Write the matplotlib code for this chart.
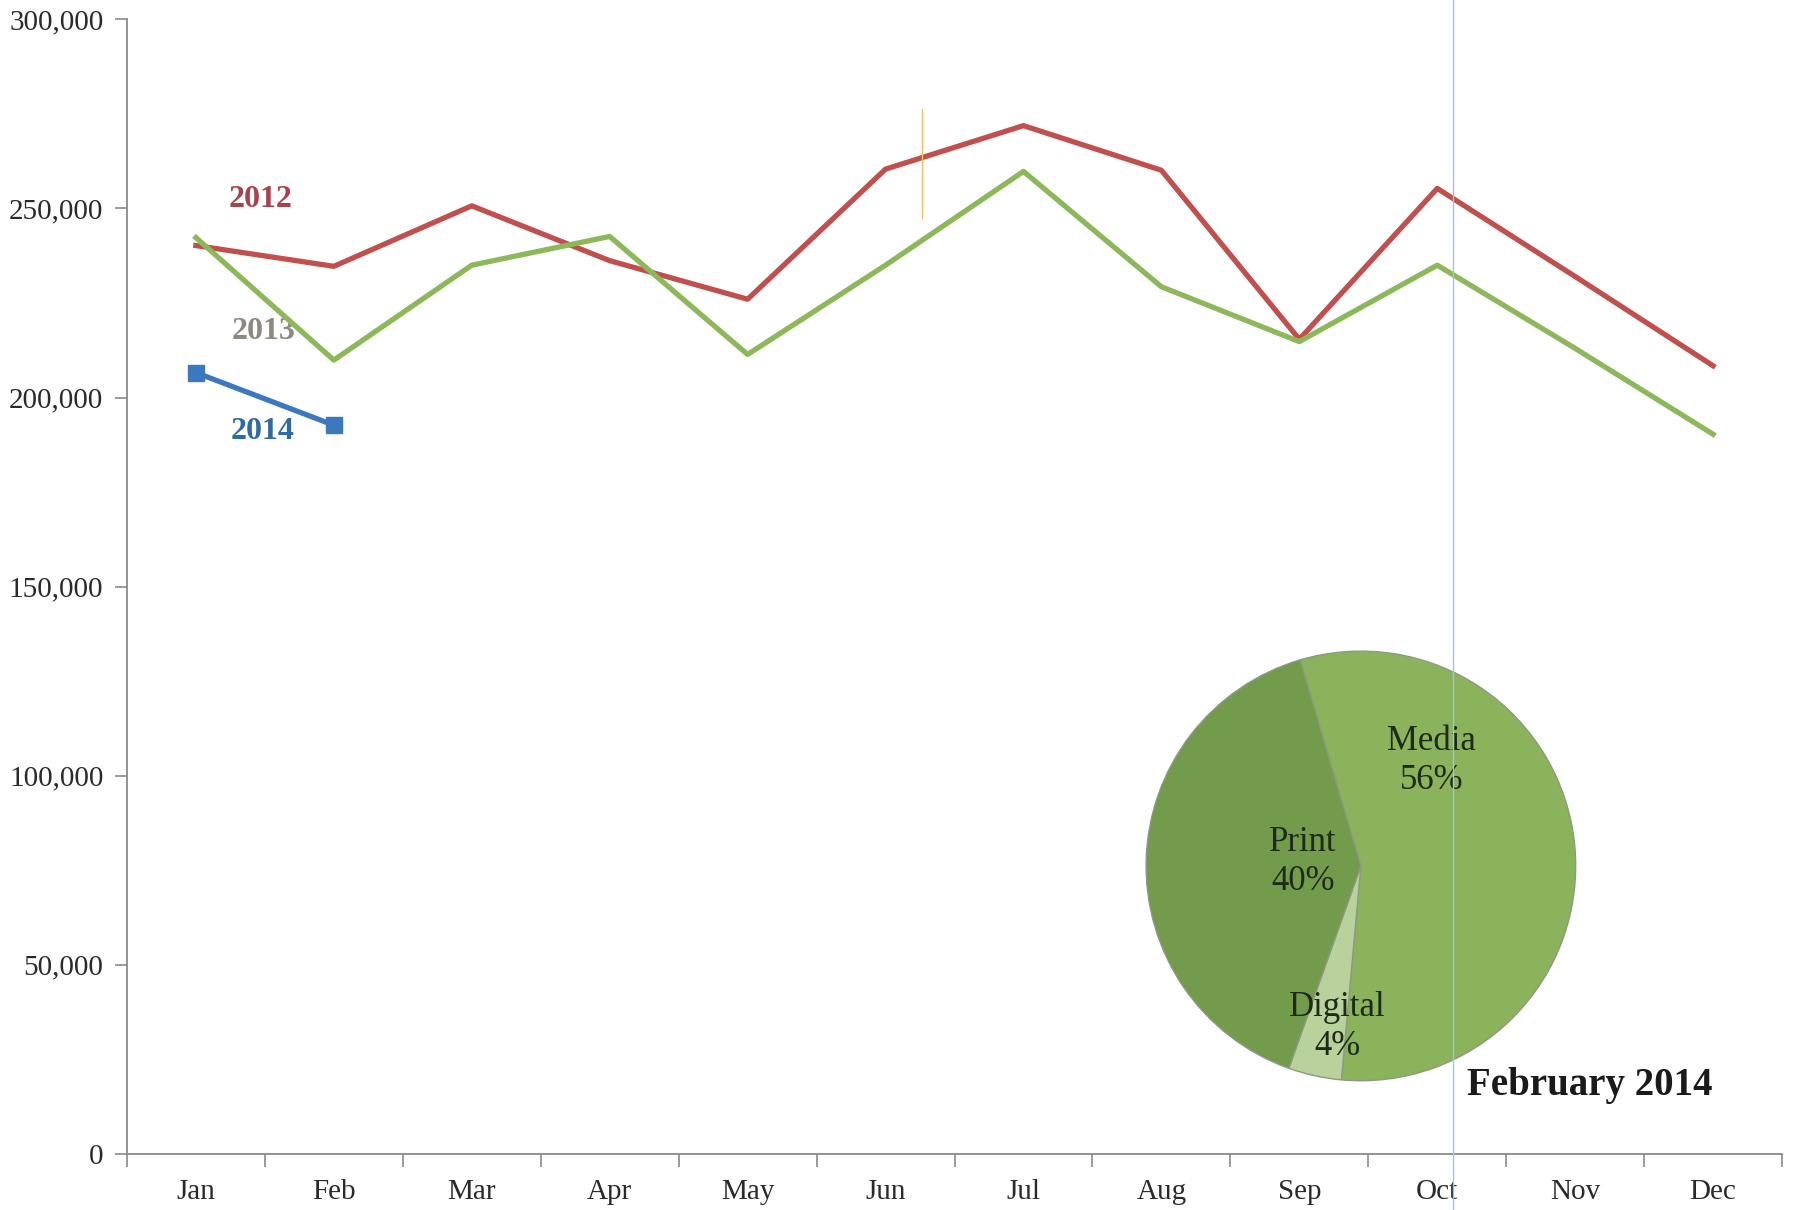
import numpy as np
import matplotlib
matplotlib.use('Agg')
import matplotlib.pyplot as plt
from matplotlib.lines import Line2D
from matplotlib.ticker import FuncFormatter, FixedLocator, NullFormatter

# data
MONTHS = ['Jan', 'Feb', 'Mar', 'Apr', 'May', 'Jun',
          'Jul', 'Aug', 'Sep', 'Oct', 'Nov', 'Dec']
Y2012 = [240200, 234700, 250700, 236200, 226000, 260400,
         271900, 260100, 215400, 255300, 232000, 208400]
Y2013 = [242300, 209900, 235000, 242600, 211400, 235000,
         259800, 229300, 214800, 235000, 213000, 190300]
Y2014 = [206600, 192700]

PIE_LABELS = ['Media', 'Digital', 'Print']
PIE_SHARES = [56, 4, 40]

SERIF = ['Liberation Serif', 'DejaVu Serif']
C2012, C2013, C2014 = '#c04f4d', '#8db85a', '#3b78bf'

plt.rcParams['font.family'] = SERIF

fig = plt.figure(figsize=(17.93, 12.10), dpi=100)
ax = fig.add_axes([0.0708, 0.0463, 0.9231, 0.9377])

x = np.arange(len(MONTHS))
ax.plot(x, Y2012, '-', color=C2012, lw=3.8, zorder=3)
ax.plot(x, Y2013, '-', color=C2013, lw=3.8, zorder=3)
ax.plot(x[:len(Y2014)], Y2014, '-s', color=C2014, lw=3.8, ms=12, zorder=4)

ax.text(0.47, 252300, '2012', color='#a8424f', fontsize=23, fontweight='bold',
        ha='center', va='center')
ax.text(0.49, 217500, '2013', color='#8c8a80', fontsize=23, fontweight='bold',
        ha='center', va='center', zorder=2)
ax.text(0.48, 190900, '2014', color='#2f6aa6', fontsize=23, fontweight='bold',
        ha='center', va='center')

ax.set_xlim(-0.5, len(MONTHS) - 0.5)
ax.set_ylim(0, 300000)
ax.set_yticks(np.arange(0, 300001, 50000))
ax.yaxis.set_major_formatter(FuncFormatter(lambda v, p: f'{int(v):,}'))
ax.xaxis.set_major_locator(FixedLocator(np.arange(-0.5, len(MONTHS), 1.0)))
ax.xaxis.set_major_formatter(NullFormatter())
ax.xaxis.set_minor_locator(FixedLocator(x))
ax.set_xticklabels(MONTHS, minor=True)
ax.tick_params(axis='x', which='minor', length=0, pad=18, labelsize=21,
               labelcolor='#2a2a2a')
ax.tick_params(axis='x', which='major', direction='out', length=9,
               width=1.2, color='#8a8a8a')
ax.tick_params(axis='y', direction='out', length=9, width=1.2, color='#8a8a8a',
               labelsize=21, labelcolor='#2a2a2a', pad=8)
for s in ('top', 'right'):
    ax.spines[s].set_visible(False)
for s in ('left', 'bottom'):
    ax.spines[s].set_color('#8a8a8a')
    ax.spines[s].set_linewidth(1.3)

# inset pie for February 2014
pax = fig.add_axes([0.638, 0.105, 0.242, 0.3587])
wedges, _ = pax.pie(PIE_SHARES, startangle=106.4, counterclock=False,
                    colors=['#8ab35b', '#b9d19a', '#729b4c'],
                    wedgeprops=dict(edgecolor='#8c9a84', linewidth=1.0))
pax.set_xlim(-1.01, 1.01)
pax.set_ylim(-1.01, 1.01)
pax.set_aspect('equal')
label_pos = {'Media': (0.33, 0.49), 'Print': (-0.27, 0.02), 'Digital': (-0.11, -0.75)}
for name, share in zip(PIE_LABELS, PIE_SHARES):
    px, py = label_pos[name]
    pax.text(px, py, f'{name}\n{share}%', ha='center', va='center',
             fontsize=25, color='#1e2a1a', linespacing=1.25)

fig.text(0.955, 0.1025, 'February 2014', fontsize=28, fontweight='bold',
         ha='right', va='center', color='#1a1a1a')

# faint scan lines visible in the reference
fig.add_artist(Line2D([0.8105, 0.8105], [0.0, 1.0], color='#9cc6e2', lw=1.0,
                      transform=fig.transFigure, zorder=10))
fig.add_artist(Line2D([0.5145, 0.5145], [0.82, 0.91], color='#f0c060', lw=1.0,
                      transform=fig.transFigure, zorder=10))

fig.savefig('out.png', dpi=100, facecolor='white')
